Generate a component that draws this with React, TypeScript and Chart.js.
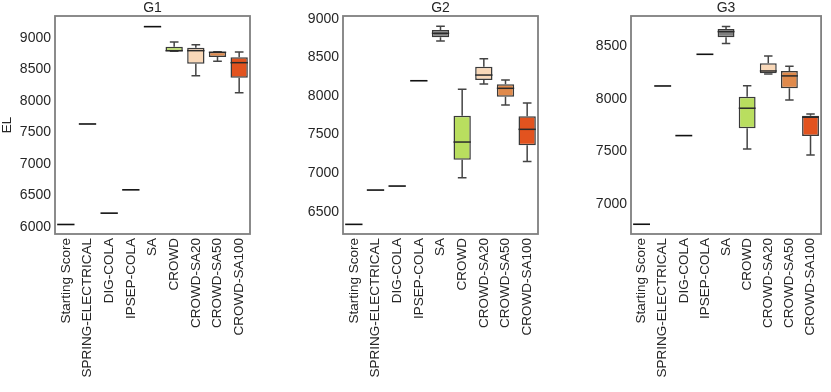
import React, { useEffect, useRef } from "react";
import { Chart, registerables } from "chart.js";

Chart.register(...registerables);

const categories = [
  "Starting Score",
  "SPRING-ELECTRICAL",
  "DIG-COLA",
  "IPSEP-COLA",
  "SA",
  "CROWD",
  "CROWD-SA20",
  "CROWD-SA50",
  "CROWD-SA100",
];

const boxColors = [
  "#ffffff",
  "#ffffff",
  "#ffffff",
  "#ffffff",
  "#7f7f7f",
  "#b9de5f",
  "#f9d8b8",
  "#e08a4c",
  "#e2531f",
];

// G1
const g1Min = [6035, 7630, 6215, 6585, 9175, 8783, 8397, 8625, 8127];
const g1Q1 = [6035, 7630, 6215, 6585, 9175, 8783, 8587, 8694, 8365];
const g1Med = [6035, 7630, 6215, 6585, 9175, 8792, 8794, 8768, 8603];
const g1Q3 = [6035, 7630, 6215, 6585, 9175, 8857, 8841, 8775, 8689];
const g1Max = [6035, 7630, 6215, 6585, 9175, 8932, 8889, 8778, 8773];
const g1Ticks = [6000, 6500, 7000, 7500, 8000, 8500, 9000];

// G2
const g2Min = [6336, 6781, 6833, 8199, 8715, 6941, 8157, 7884, 7153];
const g2Q1 = [6336, 6781, 6833, 8199, 8762, 7175, 8209, 7992, 7361];
const g2Med = [6336, 6781, 6833, 8199, 8814, 7404, 8273, 8101, 7569];
const g2Q3 = [6336, 6781, 6833, 8199, 8857, 7746, 8381, 8153, 7737];
const g2Max = [6336, 6781, 6833, 8199, 8905, 8088, 8485, 8209, 7910];
const g2Ticks = [6500, 7000, 7500, 8000, 8500, 9000];

// G3
const g3Min = [6807, 8125, 7652, 8427, 8529, 7525, 8240, 7992, 7467];
const g3Q1 = [6807, 8125, 7652, 8427, 8590, 7722, 8246, 8103, 7649];
const g3Med = [6807, 8125, 7652, 8427, 8643, 7913, 8268, 8221, 7827];
const g3Q3 = [6807, 8125, 7652, 8427, 8669, 8023, 8342, 8268, 7842];
const g3Max = [6807, 8125, 7652, 8427, 8691, 8128, 8411, 8313, 7858];
const g3Ticks = [7000, 7500, 8000, 8500];

const titles = ["G1", "G2", "G3"];
const yRanges = [
  [5884, 9344],
  [6211, 9039],
  [6714, 8792],
];

const W = 831;
const H = 392;
const FONT = "'Liberation Sans', Arial, sans-serif";
const TEXT = "#262626";

type Panel = {
  title: string;
  min: number[];
  q1: number[];
  med: number[];
  q3: number[];
  max: number[];
  ticks: number[];
  yMin: number;
  yMax: number;
  plotLeft: number;
  plotRight: number;
  yLabel?: string;
};

const panels: Panel[] = [
  { title: titles[0], min: g1Min, q1: g1Q1, med: g1Med, q3: g1Q3, max: g1Max, ticks: g1Ticks, yMin: yRanges[0][0], yMax: yRanges[0][1], plotLeft: 55, plotRight: 250, yLabel: "EL" },
  { title: titles[1], min: g2Min, q1: g2Q1, med: g2Med, q3: g2Q3, max: g2Max, ticks: g2Ticks, yMin: yRanges[1][0], yMax: yRanges[1][1], plotLeft: 343, plotRight: 538 },
  { title: titles[2], min: g3Min, q1: g3Q1, med: g3Med, q3: g3Q3, max: g3Max, ticks: g3Ticks, yMin: yRanges[2][0], yMax: yRanges[2][1], plotLeft: 631, plotRight: 826 },
];

const PLOT_TOP = 16;
const PLOT_BOTTOM = 234;
const Y_AXIS_W = 44;

function BoxPanel({ p }: { p: Panel }) {
  const ref = useRef<HTMLCanvasElement | null>(null);
  useEffect(() => {
    if (!ref.current) return;
    const boxData = categories.map((_, i) =>
      p.q1[i] === p.q3[i] ? null : [p.q1[i], p.q3[i]]
    );
    const boxPlugin = {
      id: "boxExtras",
      afterDatasetsDraw(chart: any) {
        const ctx = chart.ctx;
        const xs = chart.scales.x;
        const ys = chart.scales.y;
        const n = categories.length;
        const bw = ((xs.right - xs.left) / n) * 0.8;
        ctx.save();
        for (let i = 0; i < n; i++) {
          const cx = xs.getPixelForValue(i);
          const single = p.q1[i] === p.q3[i] && p.min[i] === p.max[i];
          if (single) {
            ctx.strokeStyle = "#111111";
            ctx.lineWidth = 1.6;
            const y = ys.getPixelForValue(p.med[i]);
            ctx.beginPath();
            ctx.moveTo(cx - bw / 2, y);
            ctx.lineTo(cx + bw / 2, y);
            ctx.stroke();
            continue;
          }
          ctx.strokeStyle = "#444444";
          ctx.lineWidth = 1.5;
          const yMax = ys.getPixelForValue(p.max[i]);
          const yQ3 = ys.getPixelForValue(p.q3[i]);
          const yQ1 = ys.getPixelForValue(p.q1[i]);
          const yMin = ys.getPixelForValue(p.min[i]);
          const cap = bw / 4;
          ctx.beginPath();
          ctx.moveTo(cx, yQ3);
          ctx.lineTo(cx, yMax);
          ctx.moveTo(cx - cap, yMax);
          ctx.lineTo(cx + cap, yMax);
          ctx.moveTo(cx, yQ1);
          ctx.lineTo(cx, yMin);
          ctx.moveTo(cx - cap, yMin);
          ctx.lineTo(cx + cap, yMin);
          ctx.stroke();
          ctx.strokeStyle = "#2a2a2a";
          ctx.lineWidth = 1.5;
          const ym = ys.getPixelForValue(p.med[i]);
          ctx.beginPath();
          ctx.moveTo(cx - bw / 2, ym);
          ctx.lineTo(cx + bw / 2, ym);
          ctx.stroke();
        }
        // frame
        const a = chart.chartArea;
        ctx.strokeStyle = "#7f7f7f";
        ctx.lineWidth = 1.8;
        ctx.strokeRect(a.left, a.top, a.right - a.left, a.bottom - a.top);
        // title
        ctx.fillStyle = TEXT;
        ctx.font = `14px ${FONT}`;
        ctx.textAlign = "center";
        ctx.textBaseline = "middle";
        ctx.fillText(p.title, (a.left + a.right) / 2, 8.5);
        if (p.yLabel) {
          ctx.save();
          ctx.translate(7, (a.top + a.bottom) / 2);
          ctx.rotate(-Math.PI / 2);
          ctx.font = `13.5px ${FONT}`;
          ctx.fillText(p.yLabel, 0, 0);
          ctx.restore();
        }
        ctx.restore();
      },
    };

    const chart = new Chart(ref.current, {
      type: "bar",
      data: {
        labels: categories,
        datasets: [
          {
            data: boxData as any,
            backgroundColor: boxColors,
            borderColor: "#3a3a3a",
            borderWidth: 1.5,
            borderSkipped: false,
            barPercentage: 0.8,
            categoryPercentage: 1.0,
          },
        ],
      },
      options: {
        responsive: false,
        animation: false,
        events: [],
        layout: {
          padding: {
            left: p.plotLeft - Y_AXIS_W,
            right: W - p.plotRight,
            top: PLOT_TOP,
            bottom: 0,
          },
        },
        plugins: {
          legend: { display: false },
          title: { display: false },
          tooltip: { enabled: false },
        },
        scales: {
          x: {
            offset: true,
            grid: { display: false, drawTicks: false },
            border: { display: false },
            ticks: {
              autoSkip: false,
              minRotation: 90,
              maxRotation: 90,
              padding: 4,
              color: TEXT,
              font: { family: FONT, size: 13.5 },
            },
            afterFit(scale: any) {
              scale.height = H - PLOT_BOTTOM;
            },
          },
          y: {
            min: p.yMin,
            max: p.yMax,
            grid: { display: false, drawTicks: false },
            border: { display: false },
            ticks: {
              padding: 4,
              color: TEXT,
              font: { family: FONT, size: 14 },
              callback: (v: any) => String(v),
            },
            afterBuildTicks(scale: any) {
              scale.ticks = p.ticks.map((v) => ({ value: v }));
            },
            afterFit(scale: any) {
              scale.width = Y_AXIS_W;
            },
          },
        },
      },
      plugins: [boxPlugin],
    });
    return () => chart.destroy();
  }, [p]);
  return (
    <canvas
      ref={ref}
      width={W}
      height={H}
      style={{ position: "absolute", left: 0, top: 0, width: W, height: H, pointerEvents: "none" }}
    />
  );
}

export default function App() {
  return (
    <div style={{ position: "absolute", left: 0, top: 0, width: W, height: H, background: "#ffffff" }}>
      {panels.map((p) => (
        <BoxPanel key={p.title} p={p} />
      ))}
    </div>
  );
}
